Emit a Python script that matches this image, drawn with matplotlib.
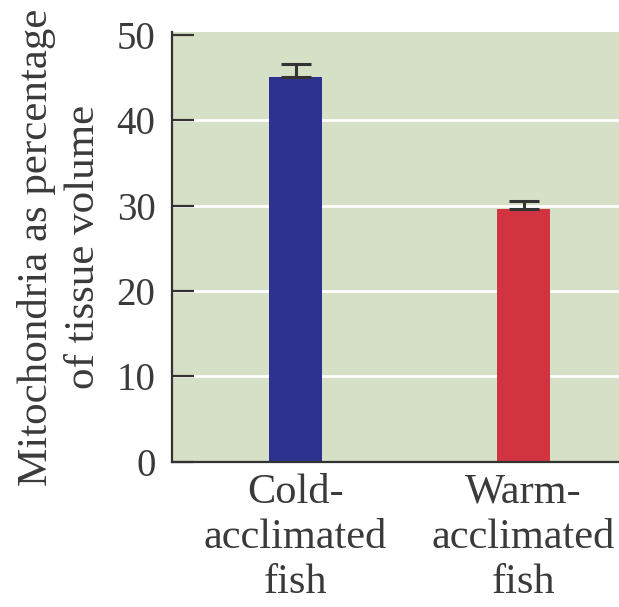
import numpy as np
import matplotlib
matplotlib.use('Agg')
import matplotlib.pyplot as plt

groups = ['Cold-\nacclimated\nfish', 'Warm-\nacclimated\nfish']
means = [45.1, 29.6]
upper_err = [1.5, 0.9]
bar_colors = ['#2e3190', '#d13341']
yticks = [0, 10, 20, 30, 40, 50]
grid_levels = [10, 20, 30, 40]

ink = '#3a3a3a'
plt.rcParams['font.family'] = ['Liberation Serif', 'DejaVu Serif']
plt.rcParams['font.size'] = 28

fig = plt.figure(figsize=(6.19, 6.07), dpi=100)
ax = fig.add_axes([0.278, 0.239, 0.722, 0.708])
ax.set_facecolor('#d5e0c7')

x = np.arange(len(groups))
ax.hlines(grid_levels, -1, 2, colors='white', lw=2, zorder=1)
ax.bar(x, means, width=0.232, color=bar_colors, zorder=2)
ax.errorbar(x, means, yerr=[np.zeros(len(means)), upper_err], fmt='none',
            ecolor='#333333', elinewidth=2.2, capsize=10.5, capthick=2.2, zorder=3)

ax.set_xlim(-0.542, 1.419)
ax.set_ylim(0, 50.3)
ax.set_yticks(yticks)
ax.set_xticks(x)
ax.set_xticklabels(groups, linespacing=1.22, fontsize=30.5)

for side in ['top', 'right']:
    ax.spines[side].set_visible(False)
for side in ['left', 'bottom']:
    ax.spines[side].set_color('#333333')
    ax.spines[side].set_linewidth(1.6)

ax.tick_params(axis='y', direction='in', length=16, width=1.6, color='#333333',
               pad=12, labelcolor=ink)
ax.tick_params(axis='x', length=0, pad=8, labelcolor=ink)

ax.set_ylabel('Mitochondria as percentage\nof tissue volume', color=ink,
              fontsize=31, linespacing=1.28, labelpad=10)

fig.savefig('out.png', dpi=100)
